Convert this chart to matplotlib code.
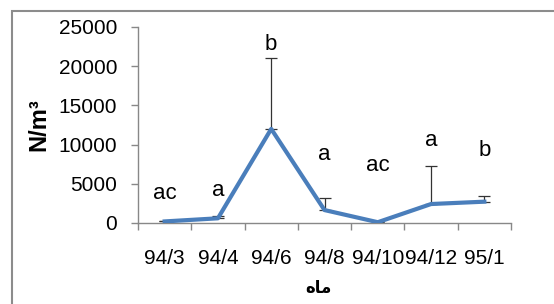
import matplotlib
matplotlib.use("Agg")
import matplotlib.pyplot as plt
from matplotlib.patches import Rectangle

categories = ["94/3", "94/4", "94/6", "94/8", "94/10", "94/12", "95/1"]
values = [200, 600, 12000, 1650, 100, 2420, 2720]
err_upper = [100, 250, 9000, 1500, 0, 4900, 760]
letters = ["ac", "a", "b", "a", "ac", "a", "b"]
letter_y = [3700, 4100, 22800, 8800, 7300, 10500, 9300]
yticks = [0, 5000, 10000, 15000, 20000, 25000]

plt.rcParams['font.family'] = ['Liberation Sans', 'DejaVu Sans']

fig = plt.figure(figsize=(5.54, 3.04), dpi=100)
fig.patches.append(Rectangle((12/554, -0.1), 1.2, (304-11)/304 + 0.1,
                             transform=fig.transFigure, fill=False,
                             edgecolor='#8c8c8c', linewidth=1.5))
ax = fig.add_axes([138/554, (304-223)/304, 373/554, 196/304])

x = list(range(len(categories)))
ax.errorbar(x, values, yerr=[[0]*len(values), err_upper], fmt='none',
            ecolor='#333333', elinewidth=0.9, capsize=4, capthick=0.9, zorder=2)
ax.plot(x, values, color='#4a7ebb', linewidth=3, zorder=3)

for xi, lab, ly in zip(x, letters, letter_y):
    ax.text(xi, ly, lab, ha='center', va='center', fontsize=16)

ax.set_xlim(-0.5, len(categories) - 0.5)
ax.set_ylim(0, 25000)
ax.set_yticks(yticks)
ax.set_yticklabels([str(v) for v in yticks], fontsize=15)
ax.set_xticks(x)
ax.set_xticklabels(categories, fontsize=15)
ax.set_xticks([i - 0.5 for i in range(len(categories) + 1)], minor=True)
ax.tick_params(axis='x', which='major', length=0, pad=19)
ax.tick_params(axis='x', which='minor', length=5, color='#888888', width=1)
ax.tick_params(axis='y', length=5, color='#888888', width=1, pad=10)

for s in ['top', 'right']:
    ax.spines[s].set_visible(False)
for s in ['left', 'bottom']:
    ax.spines[s].set_color('#888888')
    ax.spines[s].set_linewidth(1)

ax.set_ylabel("N/m³", fontsize=17, fontweight='bold', labelpad=6)
fig.text(318/554, 1 - 288/304, "\uFEE9\uFE8E\uFEE3", ha='center', va='center',
         fontsize=12, fontweight='bold', family=['DejaVu Sans'])

fig.savefig("out.png", dpi=100)
